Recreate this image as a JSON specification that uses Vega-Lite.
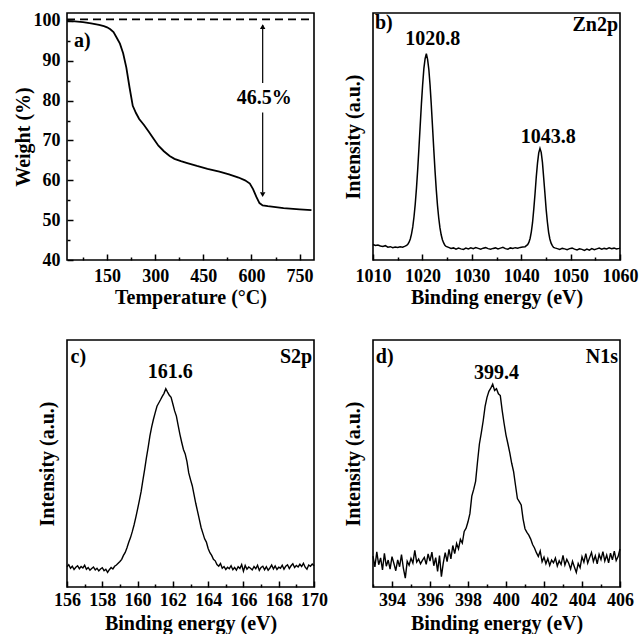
{
 "$schema": "https://vega.github.io/schema/vega-lite/v6.json",
 "background": "white",
 "padding": {"left": 12, "top": 11, "right": 0, "bottom": 0},
 "columns": 2,
 "spacing": {"row": 80, "column": 59},
 "bounds": "flush",
 "config": {
  "view": {"stroke": "black", "strokeWidth": 1.6},
  "axis": {"grid": false, "domain": false, "tickColor": "black", "tickWidth": 1.5,
   "labelFont": "Liberation Serif", "labelFontSize": 18, "labelFontWeight": "bold", "labelColor": "black",
   "titleFont": "Liberation Serif", "titleFontSize": 20, "titleFontWeight": "bold", "titleColor": "black",
   "labelFlush": false, "labelOverlap": false, "labelBound": false, "format": "d"},
  "text": {"font": "Liberation Serif", "fontSize": 20, "fontWeight": "bold", "color": "black"}
 },
 "datasets": {
  "tga": [{"x":25,"y":100.0},{"x":50,"y":99.9},{"x":75,"y":99.7},{"x":100,"y":99.4},{"x":125,"y":99.0},{"x":140,"y":98.7},{"x":150,"y":98.4},{"x":160,"y":97.9},{"x":170,"y":97.2},{"x":180,"y":95.8},{"x":190,"y":94.3},{"x":200,"y":91.9},{"x":210,"y":88.3},{"x":220,"y":83.3},{"x":230,"y":78.7},{"x":240,"y":76.9},{"x":250,"y":75.4},{"x":265,"y":73.9},{"x":280,"y":72.2},{"x":296,"y":70.3},{"x":310,"y":68.7},{"x":327,"y":67.3},{"x":345,"y":66.1},{"x":360,"y":65.4},{"x":380,"y":64.8},{"x":400,"y":64.3},{"x":430,"y":63.6},{"x":463,"y":62.9},{"x":500,"y":62.2},{"x":530,"y":61.5},{"x":560,"y":60.7},{"x":580,"y":60.0},{"x":595,"y":59.2},{"x":605,"y":57.8},{"x":615,"y":55.9},{"x":625,"y":54.3},{"x":635,"y":53.7},{"x":651,"y":53.5},{"x":700,"y":53.0},{"x":750,"y":52.7},{"x":787,"y":52.5}],
  "zn": [{"x":1010,"y":6.3},{"x":1010.5,"y":5.9},{"x":1011,"y":6.1},{"x":1011.5,"y":5.7},{"x":1012,"y":5.5},{"x":1012.5,"y":5.8},{"x":1013,"y":5.2},{"x":1013.5,"y":5.4},{"x":1014,"y":5.0},{"x":1014.5,"y":5.3},{"x":1015,"y":5.1},{"x":1015.5,"y":5.4},{"x":1016,"y":5.2},{"x":1016.5,"y":5.6},
   {"x":1016.8,"y":5.9},{"x":1017.05,"y":6.4},{"x":1017.3,"y":7.2},{"x":1017.55,"y":8.5},{"x":1017.8,"y":10.6},{"x":1018.05,"y":13.4},{"x":1018.3,"y":17.5},{"x":1018.55,"y":22.6},{"x":1018.8,"y":29.1},{"x":1019.05,"y":36.7},{"x":1019.3,"y":45.3},{"x":1019.55,"y":54.3},{"x":1019.8,"y":63.2},{"x":1020.05,"y":71.0},{"x":1020.3,"y":77.6},{"x":1020.55,"y":81.5},{"x":1020.8,"y":83.5},{"x":1021.05,"y":81.2},{"x":1021.3,"y":77.2},{"x":1021.55,"y":70.8},{"x":1021.8,"y":62.8},{"x":1022.05,"y":53.9},{"x":1022.3,"y":44.9},{"x":1022.55,"y":36.3},{"x":1022.8,"y":28.7},{"x":1023.05,"y":22.2},{"x":1023.3,"y":17.1},{"x":1023.55,"y":13.1},{"x":1023.8,"y":10.2},{"x":1024.05,"y":8.2},{"x":1024.3,"y":6.9},{"x":1024.55,"y":6.0},{"x":1024.8,"y":5.5},
   {"x":1025.3,"y":5.1},{"x":1025.8,"y":4.7},{"x":1026.3,"y":4.9},{"x":1026.8,"y":4.4},{"x":1027.3,"y":4.8},{"x":1027.8,"y":4.5},{"x":1028.3,"y":4.3},{"x":1028.8,"y":4.8},{"x":1029.3,"y":4.5},{"x":1029.8,"y":4.9},{"x":1030.3,"y":4.6},{"x":1030.8,"y":5.0},{"x":1031.3,"y":4.7},{"x":1031.8,"y":4.4},{"x":1032.3,"y":4.8},{"x":1032.8,"y":5.0},{"x":1033.3,"y":4.6},{"x":1033.8,"y":4.4},{"x":1034.3,"y":4.7},{"x":1034.8,"y":4.9},{"x":1035.3,"y":4.5},{"x":1035.8,"y":4.8},{"x":1036.3,"y":5.1},{"x":1036.8,"y":4.6},{"x":1037.3,"y":4.4},{"x":1037.8,"y":4.9},{"x":1038.3,"y":4.7},{"x":1038.8,"y":5.0},{"x":1039.3,"y":4.8},{"x":1039.8,"y":5.1},{"x":1040.3,"y":5.3},
   {"x":1040.8,"y":5.4},{"x":1041.05,"y":5.8},{"x":1041.3,"y":6.2},{"x":1041.55,"y":7.1},{"x":1041.8,"y":8.7},{"x":1042.05,"y":11.4},{"x":1042.3,"y":15.2},{"x":1042.55,"y":20.7},{"x":1042.8,"y":26.8},{"x":1043.05,"y":33.6},{"x":1043.3,"y":39.2},{"x":1043.55,"y":43.4},{"x":1043.8,"y":45.2},{"x":1044.05,"y":43.6},{"x":1044.3,"y":39.5},{"x":1044.55,"y":33.3},{"x":1044.8,"y":27.0},{"x":1045.05,"y":20.5},{"x":1045.3,"y":15.4},{"x":1045.55,"y":11.2},{"x":1045.8,"y":8.5},{"x":1046.05,"y":6.8},{"x":1046.3,"y":5.8},{"x":1046.55,"y":5.1},{"x":1046.8,"y":4.9},
   {"x":1047.3,"y":4.6},{"x":1047.8,"y":4.3},{"x":1048.3,"y":4.7},{"x":1048.8,"y":4.5},{"x":1049.3,"y":4.2},{"x":1049.8,"y":4.6},{"x":1050.3,"y":4.8},{"x":1050.8,"y":4.4},{"x":1051.3,"y":4.1},{"x":1051.8,"y":4.5},{"x":1052.3,"y":4.3},{"x":1052.8,"y":3.9},{"x":1053.3,"y":4.4},{"x":1053.8,"y":4.0},{"x":1054.3,"y":4.6},{"x":1054.8,"y":4.2},{"x":1055.3,"y":4.5},{"x":1055.8,"y":4.8},{"x":1056.3,"y":4.4},{"x":1056.8,"y":4.7},{"x":1057.3,"y":4.5},{"x":1057.8,"y":4.9},{"x":1058.3,"y":4.6},{"x":1058.8,"y":4.8},{"x":1059.3,"y":4.5},{"x":1059.8,"y":4.7},{"x":1060,"y":4.8}],
  "s": [{"x":156.0,"y":8.2},{"x":156.1,"y":9.0},{"x":156.2,"y":7.6},{"x":156.3,"y":8.4},{"x":156.4,"y":7.1},{"x":156.5,"y":8.0},{"x":156.6,"y":8.6},{"x":156.7,"y":7.4},{"x":156.8,"y":8.3},{"x":156.9,"y":7.7},{"x":157.0,"y":8.8},{"x":157.1,"y":7.2},{"x":157.2,"y":7.9},{"x":157.3,"y":6.8},{"x":157.4,"y":7.5},{"x":157.5,"y":8.1},{"x":157.6,"y":6.9},{"x":157.7,"y":7.6},{"x":157.8,"y":6.5},{"x":157.9,"y":7.3},{"x":158.0,"y":7.8},{"x":158.1,"y":6.6},{"x":158.2,"y":7.2},{"x":158.3,"y":5.9},{"x":158.4,"y":7.0},{"x":158.5,"y":7.9},{"x":158.6,"y":7.3},{"x":158.7,"y":8.4},{"x":158.8,"y":8.9},{"x":158.9,"y":9.6},{"x":159.0,"y":10.3},{"x":159.1,"y":11.2},{"x":159.2,"y":12.8},{"x":159.3,"y":14.0},{"x":159.4,"y":15.9},{"x":159.5,"y":18.1},{"x":159.6,"y":20.0},{"x":159.7,"y":22.4},{"x":159.8,"y":25.1},{"x":159.9,"y":28.2},{"x":160.0,"y":31.5},{"x":160.1,"y":35.0},{"x":160.2,"y":38.6},{"x":160.3,"y":43.2},{"x":160.4,"y":47.5},{"x":160.5,"y":52.3},{"x":160.6,"y":56.5},{"x":160.7,"y":61.2},{"x":160.8,"y":64.8},{"x":160.9,"y":67.9},{"x":161.0,"y":70.6},{"x":161.1,"y":73.2},{"x":161.2,"y":74.5},{"x":161.3,"y":75.8},{"x":161.4,"y":77.2},{"x":161.5,"y":78.4},{"x":161.6,"y":80.3},{"x":161.7,"y":78.9},{"x":161.8,"y":77.6},{"x":161.9,"y":76.8},{"x":162.0,"y":74.1},{"x":162.1,"y":71.3},{"x":162.2,"y":69.2},{"x":162.3,"y":65.4},{"x":162.4,"y":61.8},{"x":162.5,"y":58.6},{"x":162.6,"y":55.7},{"x":162.7,"y":53.9},{"x":162.8,"y":50.8},{"x":162.9,"y":46.2},{"x":163.0,"y":43.5},{"x":163.1,"y":41.0},{"x":163.2,"y":37.4},{"x":163.3,"y":33.8},{"x":163.4,"y":30.6},{"x":163.5,"y":27.4},{"x":163.6,"y":24.1},{"x":163.7,"y":21.8},{"x":163.8,"y":19.5},{"x":163.9,"y":18.2},{"x":164.0,"y":15.6},{"x":164.1,"y":13.9},{"x":164.2,"y":12.8},{"x":164.3,"y":11.2},{"x":164.4,"y":10.6},{"x":164.5,"y":9.1},{"x":164.6,"y":8.4},{"x":164.7,"y":9.5},{"x":164.8,"y":7.6},{"x":164.9,"y":8.3},{"x":165.0,"y":7.1},{"x":165.1,"y":8.0},{"x":165.2,"y":7.4},{"x":165.3,"y":8.6},{"x":165.4,"y":7.0},{"x":165.5,"y":7.9},{"x":165.6,"y":6.8},{"x":165.7,"y":8.2},{"x":165.8,"y":7.5},{"x":165.9,"y":9.1},{"x":166.0,"y":6.4},{"x":166.1,"y":8.7},{"x":166.2,"y":7.2},{"x":166.3,"y":8.1},{"x":166.4,"y":7.6},{"x":166.5,"y":6.9},{"x":166.6,"y":8.3},{"x":166.7,"y":7.4},{"x":166.8,"y":8.8},{"x":166.9,"y":6.7},{"x":167.0,"y":7.9},{"x":167.1,"y":8.4},{"x":167.2,"y":7.0},{"x":167.3,"y":8.2},{"x":167.4,"y":6.8},{"x":167.5,"y":7.7},{"x":167.6,"y":8.9},{"x":167.7,"y":7.3},{"x":167.8,"y":8.5},{"x":167.9,"y":7.1},{"x":168.0,"y":8.0},{"x":168.1,"y":7.6},{"x":168.2,"y":8.8},{"x":168.3,"y":7.2},{"x":168.4,"y":8.4},{"x":168.5,"y":9.0},{"x":168.6,"y":7.5},{"x":168.7,"y":8.6},{"x":168.8,"y":9.4},{"x":168.9,"y":7.9},{"x":169.0,"y":8.7},{"x":169.1,"y":8.1},{"x":169.2,"y":9.2},{"x":169.3,"y":8.3},{"x":169.4,"y":9.6},{"x":169.5,"y":8.0},{"x":169.6,"y":7.2},{"x":169.7,"y":8.9},{"x":169.8,"y":8.4},{"x":169.9,"y":9.3},{"x":170.0,"y":8.6}],
  "n": [{"x":393.0,"y":12.5},{"x":393.1,"y":8.1},{"x":393.2,"y":14.2},{"x":393.3,"y":9.0},{"x":393.4,"y":11.8},{"x":393.5,"y":6.9},{"x":393.6,"y":13.6},{"x":393.7,"y":8.4},{"x":393.8,"y":10.9},{"x":393.9,"y":7.2},{"x":394.0,"y":12.3},{"x":394.1,"y":9.5},{"x":394.2,"y":6.6},{"x":394.3,"y":11.0},{"x":394.4,"y":8.2},{"x":394.5,"y":13.1},{"x":394.6,"y":7.5},{"x":394.7,"y":3.6},{"x":394.8,"y":10.4},{"x":394.9,"y":8.8},{"x":395.0,"y":11.6},{"x":395.1,"y":9.7},{"x":395.2,"y":14.8},{"x":395.3,"y":10.1},{"x":395.4,"y":11.3},{"x":395.5,"y":9.4},{"x":395.6,"y":10.8},{"x":395.7,"y":12.0},{"x":395.8,"y":9.2},{"x":395.9,"y":13.4},{"x":396.0,"y":10.5},{"x":396.1,"y":14.1},{"x":396.2,"y":8.6},{"x":396.3,"y":11.9},{"x":396.4,"y":6.3},{"x":396.5,"y":12.7},{"x":396.6,"y":4.2},{"x":396.7,"y":9.8},{"x":396.8,"y":13.9},{"x":396.9,"y":10.3},{"x":397.0,"y":15.2},{"x":397.1,"y":11.4},{"x":397.2,"y":16.8},{"x":397.3,"y":13.5},{"x":397.4,"y":17.6},{"x":397.5,"y":15.4},{"x":397.6,"y":19.3},{"x":397.7,"y":17.8},{"x":397.8,"y":22.5},{"x":397.9,"y":23.8},{"x":398.0,"y":26.4},{"x":398.1,"y":29.7},{"x":398.2,"y":36.8},{"x":398.3,"y":39.5},{"x":398.4,"y":42.8},{"x":398.5,"y":50.6},{"x":398.6,"y":57.9},{"x":398.7,"y":62.4},{"x":398.8,"y":67.3},{"x":398.9,"y":73.1},{"x":399.0,"y":76.8},{"x":399.1,"y":79.2},{"x":399.2,"y":80.5},{"x":399.3,"y":82.1},{"x":399.4,"y":79.6},{"x":399.5,"y":80.3},{"x":399.6,"y":78.2},{"x":399.7,"y":77.5},{"x":399.8,"y":71.4},{"x":399.9,"y":66.2},{"x":400.0,"y":61.5},{"x":400.1,"y":58.0},{"x":400.2,"y":54.3},{"x":400.3,"y":50.1},{"x":400.4,"y":46.7},{"x":400.5,"y":41.2},{"x":400.6,"y":35.8},{"x":400.7,"y":34.6},{"x":400.8,"y":33.2},{"x":400.9,"y":27.5},{"x":401.0,"y":23.6},{"x":401.1,"y":22.1},{"x":401.2,"y":21.0},{"x":401.3,"y":19.4},{"x":401.4,"y":17.2},{"x":401.5,"y":15.8},{"x":401.6,"y":13.9},{"x":401.7,"y":12.4},{"x":401.8,"y":14.6},{"x":401.9,"y":10.2},{"x":402.0,"y":12.1},{"x":402.1,"y":9.4},{"x":402.2,"y":11.5},{"x":402.3,"y":8.7},{"x":402.4,"y":10.9},{"x":402.5,"y":9.8},{"x":402.6,"y":11.7},{"x":402.7,"y":8.5},{"x":402.8,"y":10.6},{"x":402.9,"y":9.1},{"x":403.0,"y":12.8},{"x":403.1,"y":8.9},{"x":403.2,"y":11.2},{"x":403.3,"y":9.6},{"x":403.4,"y":7.3},{"x":403.5,"y":10.4},{"x":403.6,"y":8.1},{"x":403.7,"y":5.9},{"x":403.8,"y":9.5},{"x":403.9,"y":7.8},{"x":404.0,"y":12.2},{"x":404.1,"y":10.0},{"x":404.2,"y":13.5},{"x":404.3,"y":9.7},{"x":404.4,"y":11.9},{"x":404.5,"y":14.0},{"x":404.6,"y":10.3},{"x":404.7,"y":12.6},{"x":404.8,"y":9.4},{"x":404.9,"y":13.2},{"x":405.0,"y":11.1},{"x":405.1,"y":14.3},{"x":405.2,"y":10.5},{"x":405.3,"y":12.9},{"x":405.4,"y":9.8},{"x":405.5,"y":13.7},{"x":405.6,"y":11.0},{"x":405.7,"y":14.5},{"x":405.8,"y":10.7},{"x":405.9,"y":12.3},{"x":406.0,"y":15.4}]
 },
 "concat": [
  {
   "width": 247, "height": 247,
   "resolve": {"axis": {"x": "independent", "y": "independent"}},
   "encoding": {
    "x": {"field": "x", "type": "quantitative", "scale": {"domain": [25, 795], "nice": false, "zero": false}, "axis": null},
    "y": {"field": "y", "type": "quantitative", "scale": {"domain": [40, 102], "nice": false, "zero": false}, "axis": null}
   },
   "layer": [
    {"data": {"name": "tga"}, "mark": {"type": "line", "color": "black", "strokeWidth": 1.8},
     "encoding": {
      "x": {"field": "x", "type": "quantitative", "scale": {"domain": [25, 795], "nice": false, "zero": false},
       "axis": {"orient": "bottom", "title": "Temperature (°C)", "values": [150,300,450,600,750], "tickSize": 6, "offset": -6, "labelPadding": 7, "titlePadding": 2}},
      "y": {"field": "y", "type": "quantitative", "scale": {"domain": [40, 102], "nice": false, "zero": false},
       "axis": {"orient": "left", "title": "Weight (%)", "values": [40,50,60,70,80,90,100], "tickSize": 6, "offset": -6, "labelPadding": 7, "titlePadding": 0}}
     }},
    {"data": {"values": [{"x": 25, "y": 40}]}, "mark": {"type": "point", "opacity": 0, "size": 1},
     "encoding": {
      "x": {"field": "x", "type": "quantitative", "scale": {"domain": [25, 795], "nice": false, "zero": false},
       "axis": {"orient": "bottom", "title": null, "labels": false, "values": [75,225,375,525,675], "tickSize": 3, "offset": -3}},
      "y": {"field": "y", "type": "quantitative", "scale": {"domain": [40, 102], "nice": false, "zero": false},
       "axis": {"orient": "left", "title": null, "labels": false, "values": [45,55,65,75,85,95], "tickSize": 3, "offset": -3}}
     }},
    {"data": {"values": [{"x": 25, "x2": 790, "y": 100.4}]}, "mark": {"type": "rule", "color": "black", "strokeWidth": 1.6, "strokeDash": [8, 5]},
     "encoding": {"x2": {"field": "x2"}}},
    {"data": {"values": [{"x": 635, "y": 99.0, "y2": 84.4}, {"x": 635, "y": 77.0, "y2": 57.0}]}, "mark": {"type": "rule", "color": "black", "strokeWidth": 1.2},
     "encoding": {"y2": {"field": "y2"}}},
    {"data": {"values": [{"x": 635, "y": 98.6}]}, "mark": {"type": "point", "shape": "triangle-up", "filled": true, "color": "black", "opacity": 1, "size": 30}},
    {"data": {"values": [{"x": 635, "y": 56.4}]}, "mark": {"type": "point", "shape": "triangle-down", "filled": true, "color": "black", "opacity": 1, "size": 30}},
    {"data": {"values": [{"x": 640, "y": 80.6, "t": "46.5%"}]}, "mark": {"type": "text", "align": "center", "baseline": "middle"}, "encoding": {"text": {"field": "t"}}},
    {"data": {"values": [{"x": 46.8, "y": 95.0, "t": "a)"}]}, "mark": {"type": "text", "align": "left", "baseline": "middle"}, "encoding": {"text": {"field": "t"}}}
   ]
  },
  {
   "width": 247, "height": 247,
   "resolve": {"axis": {"x": "independent", "y": "independent"}},
   "encoding": {
    "x": {"field": "x", "type": "quantitative", "scale": {"domain": [1010, 1060], "nice": false, "zero": false}, "axis": null},
    "y": {"field": "y", "type": "quantitative", "scale": {"domain": [0, 100], "nice": false, "zero": false}, "axis": null}
   },
   "layer": [
    {"data": {"name": "zn"}, "mark": {"type": "line", "color": "black", "strokeWidth": 1.5},
     "encoding": {
      "x": {"field": "x", "type": "quantitative", "scale": {"domain": [1010, 1060], "nice": false, "zero": false},
       "axis": {"orient": "bottom", "title": "Binding energy (eV)", "values": [1010,1020,1030,1040,1050,1060], "tickSize": 6, "offset": -6, "labelPadding": 7, "titlePadding": 2}},
      "y": {"field": "y", "type": "quantitative", "scale": {"domain": [0, 100], "nice": false, "zero": false},
       "axis": {"orient": "left", "title": "Intensity (a.u.)", "labels": false, "ticks": false, "titlePadding": 10}}
     }},
    {"data": {"values": [{"x": 1010, "y": 0}]}, "mark": {"type": "point", "opacity": 0, "size": 1},
     "encoding": {
      "x": {"field": "x", "type": "quantitative", "scale": {"domain": [1010, 1060], "nice": false, "zero": false},
       "axis": {"orient": "bottom", "title": null, "labels": false, "values": [1015,1025,1035,1045,1055], "tickSize": 3, "offset": -3}}
     }},
    {"data": {"values": [{"x": 1022.1, "y": 89.3, "t": "1020.8"}, {"x": 1045.5, "y": 50.0, "t": "1043.8"}]}, "mark": {"type": "text", "align": "center", "baseline": "middle"}, "encoding": {"text": {"field": "t"}}},
    {"data": {"values": [{"x": 1010.4, "y": 95.8, "t": "b)"}]}, "mark": {"type": "text", "align": "left", "baseline": "middle"}, "encoding": {"text": {"field": "t"}}},
    {"data": {"values": [{"x": 1059.6, "y": 95.3, "t": "Zn2p"}]}, "mark": {"type": "text", "align": "right", "baseline": "middle"}, "encoding": {"text": {"field": "t"}}}
   ]
  },
  {
   "width": 247, "height": 247,
   "resolve": {"axis": {"x": "independent", "y": "independent"}},
   "encoding": {
    "x": {"field": "x", "type": "quantitative", "scale": {"domain": [156, 170], "nice": false, "zero": false}, "axis": null},
    "y": {"field": "y", "type": "quantitative", "scale": {"domain": [0, 100], "nice": false, "zero": false}, "axis": null}
   },
   "layer": [
    {"data": {"name": "s"}, "mark": {"type": "line", "color": "black", "strokeWidth": 1.4},
     "encoding": {
      "x": {"field": "x", "type": "quantitative", "scale": {"domain": [156, 170], "nice": false, "zero": false},
       "axis": {"orient": "bottom", "title": "Binding energy (eV)", "values": [156,158,160,162,164,166,168,170], "tickSize": 6, "offset": -6, "labelPadding": 4, "titlePadding": 4}},
      "y": {"field": "y", "type": "quantitative", "scale": {"domain": [0, 100], "nice": false, "zero": false},
       "axis": {"orient": "left", "title": "Intensity (a.u.)", "labels": false, "ticks": false, "titlePadding": 10}}
     }},
    {"data": {"values": [{"x": 156, "y": 0}]}, "mark": {"type": "point", "opacity": 0, "size": 1},
     "encoding": {
      "x": {"field": "x", "type": "quantitative", "scale": {"domain": [156, 170], "nice": false, "zero": false},
       "axis": {"orient": "bottom", "title": null, "labels": false, "values": [157,159,161,163,165,167,169], "tickSize": 3, "offset": -3}}
     }},
    {"data": {"values": [{"x": 161.85, "y": 87.0, "t": "161.6"}]}, "mark": {"type": "text", "align": "center", "baseline": "middle"}, "encoding": {"text": {"field": "t"}}},
    {"data": {"values": [{"x": 156.2, "y": 93.0, "t": "c)"}]}, "mark": {"type": "text", "align": "left", "baseline": "middle"}, "encoding": {"text": {"field": "t"}}},
    {"data": {"values": [{"x": 169.9, "y": 93.0, "t": "S2p"}]}, "mark": {"type": "text", "align": "right", "baseline": "middle"}, "encoding": {"text": {"field": "t"}}}
   ]
  },
  {
   "width": 247, "height": 247,
   "resolve": {"axis": {"x": "independent", "y": "independent"}},
   "encoding": {
    "x": {"field": "x", "type": "quantitative", "scale": {"domain": [393, 406], "nice": false, "zero": false}, "axis": null},
    "y": {"field": "y", "type": "quantitative", "scale": {"domain": [0, 100], "nice": false, "zero": false}, "axis": null}
   },
   "layer": [
    {"data": {"name": "n"}, "mark": {"type": "line", "color": "black", "strokeWidth": 1.4},
     "encoding": {
      "x": {"field": "x", "type": "quantitative", "scale": {"domain": [393, 406], "nice": false, "zero": false},
       "axis": {"orient": "bottom", "title": "Binding energy (eV)", "values": [394,396,398,400,402,404,406], "tickSize": 6, "offset": -6, "labelPadding": 4, "titlePadding": 4}},
      "y": {"field": "y", "type": "quantitative", "scale": {"domain": [0, 100], "nice": false, "zero": false},
       "axis": {"orient": "left", "title": "Intensity (a.u.)", "labels": false, "ticks": false, "titlePadding": 10}}
     }},
    {"data": {"values": [{"x": 393, "y": 0}]}, "mark": {"type": "point", "opacity": 0, "size": 1},
     "encoding": {
      "x": {"field": "x", "type": "quantitative", "scale": {"domain": [393, 406], "nice": false, "zero": false},
       "axis": {"orient": "bottom", "title": null, "labels": false, "values": [393,395,397,399,401,403,405], "tickSize": 3, "offset": -3}}
     }},
    {"data": {"values": [{"x": 399.5, "y": 86.5, "t": "399.4"}]}, "mark": {"type": "text", "align": "center", "baseline": "middle"}, "encoding": {"text": {"field": "t"}}},
    {"data": {"values": [{"x": 393.15, "y": 93.0, "t": "d)"}]}, "mark": {"type": "text", "align": "left", "baseline": "middle"}, "encoding": {"text": {"field": "t"}}},
    {"data": {"values": [{"x": 405.9, "y": 93.0, "t": "N1s"}]}, "mark": {"type": "text", "align": "right", "baseline": "middle"}, "encoding": {"text": {"field": "t"}}}
   ]
  }
 ]
}
